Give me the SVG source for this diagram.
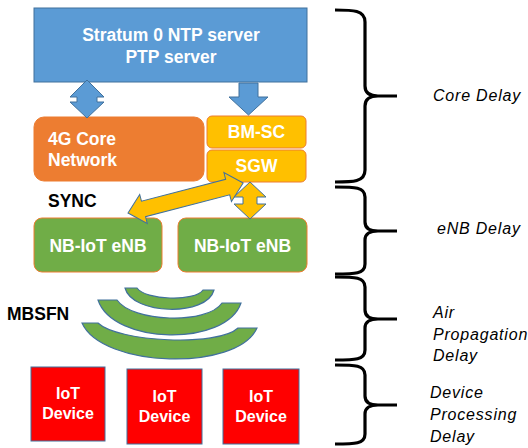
<svg xmlns="http://www.w3.org/2000/svg" width="528" height="448" viewBox="0 0 528 448">
  <style>
    .lbl { font-family: "Liberation Sans", Arial, sans-serif; font-weight: bold; fill: #ffffff; }
    .blk { font-family: "Liberation Sans", Arial, sans-serif; font-weight: bold; fill: #000000; font-size: 17.5px; }
    .note { font-family: "Liberation Sans", Arial, sans-serif; font-style: italic; fill: #000000; font-size: 16px; letter-spacing: 0.8px; }
    .blue { fill: #5B9BD5; stroke: #41719C; stroke-width: 1; }
    .yarrow { fill: #FFC000; stroke: #41719C; stroke-width: 1; }
    .wave { fill: #70AD47; stroke: #41719C; stroke-width: 1.2; }
    .brace { fill: none; stroke: #000000; stroke-width: 3.2; }
  </style>

  <!-- time servers -->
  <g id="server">
    <rect x="34" y="8" width="273" height="74" class="blue"/>
    <text class="lbl" font-size="17.5" x="171" y="41" text-anchor="middle">Stratum 0 NTP server</text>
    <text class="lbl" font-size="17.5" x="171" y="63" text-anchor="middle">PTP server</text>
  </g>

  <!-- core network -->
  <g id="core">
    <rect x="34" y="117" width="170" height="64" rx="10" fill="#ED7D31" stroke="#ED7D31"/>
    <text class="lbl" font-size="17.5" x="48" y="145">4G Core</text>
    <text class="lbl" font-size="17.5" x="48" y="166">Network</text>
  </g>
  <g id="bmsc">
    <rect x="207" y="116" width="99" height="32" rx="5" fill="#FFC000" stroke="#ED7D31"/>
    <text class="lbl" font-size="17.5" x="256.5" y="138" text-anchor="middle">BM-SC</text>
  </g>
  <g id="sgw">
    <rect x="207" y="150" width="99" height="32" rx="5" fill="#FFC000" stroke="#ED7D31"/>
    <text class="lbl" font-size="17.5" x="256.5" y="172" text-anchor="middle">SGW</text>
  </g>

  <!-- base stations -->
  <g id="enb1">
    <rect x="34" y="218" width="128" height="54" rx="8" fill="#70AD47" stroke="#ED7D31"/>
    <text class="lbl" font-size="17.5" x="98" y="252" text-anchor="middle">NB-IoT eNB</text>
  </g>
  <g id="enb2">
    <rect x="178" y="218" width="129" height="54" rx="8" fill="#70AD47" stroke="#ED7D31"/>
    <text class="lbl" font-size="17.5" x="242.5" y="252" text-anchor="middle">NB-IoT eNB</text>
  </g>

  <!-- devices -->
  <g id="dev1">
    <rect x="31" y="367" width="74" height="74" fill="#FF0000" stroke="#41719C"/>
    <text class="lbl" font-size="16" x="68" y="399" text-anchor="middle">IoT</text>
    <text class="lbl" font-size="16" x="68" y="419" text-anchor="middle">Device</text>
  </g>
  <g id="dev2">
    <rect x="127" y="369" width="75" height="75" fill="#FF0000" stroke="#41719C"/>
    <text class="lbl" font-size="16" x="164.5" y="402" text-anchor="middle">IoT</text>
    <text class="lbl" font-size="16" x="164.5" y="422" text-anchor="middle">Device</text>
  </g>
  <g id="dev3">
    <rect x="223" y="369" width="76" height="75" fill="#FF0000" stroke="#41719C"/>
    <text class="lbl" font-size="16" x="261" y="402" text-anchor="middle">IoT</text>
    <text class="lbl" font-size="16" x="261" y="422" text-anchor="middle">Device</text>
  </g>

  <!-- plain labels -->
  <g id="labels">
    <text class="blk" x="48" y="207">SYNC</text>
    <text class="blk" x="7" y="320">MBSFN</text>
  </g>

  <!-- connectors -->
  <g id="connectors">
    <!-- server <-> core -->
    <polygon class="blue" points="87,80 104,97 97,97 97,102 104,102 87,118 70,102 77,102 77,97 70,97"/>
    <!-- server -> BM-SC -->
    <polygon class="blue" points="239,83 258,83 258,97 268,97 248.5,115 229,97 239,97"/>
    <!-- SGW <-> eNB (sync) -->
    <polygon class="yarrow" transform="translate(128,213) rotate(-14.6)"
             points="0,0 16,-15 16,-8 103,-8 103,-15 119,0 103,15 103,8 16,8 16,15"/>
    <!-- SGW <-> eNB -->
    <polygon class="yarrow" points="250,182 266,197 257,197 257,204 266,204 250,219 234,204 243,204 243,197 234,197"/>
  </g>

  <!-- MBSFN broadcast waves -->
  <g id="waves">
    <path class="wave" d="M125,288 L137,288 C145,300 195,302 203,290 L214,290 C207,317 132,315 125,288 Z"/>
    <path class="wave" d="M98,300 L117,300 C132,322 207,325 222,303 L241,303 C226,347 113,345 98,300 Z"/>
    <path class="wave" d="M82,323 L98,323 C118,342 218,347 238,328 L257,328 C237,372 102,368 82,323 Z"/>
  </g>

  <!-- delay braces -->
  <g id="braces">
    <path class="brace" d="M335,10 C353,10 365,10 365,22 L365,86 C365,93 370,96 378,96 L397,96 M378,96 C370,96 365,99 365,106 L365,170 C365,182 353,182 335,182"/>
    <path class="brace" d="M335,187 C355,187 365,187 365,197 L365,222 C365,228 370,231 378,231 L397,231 M378,231 C370,231 365,234 365,240 L365,264 C365,274 355,274 335,274"/>
    <path class="brace" d="M335,277 C355,277 365,277 365,287 L365,310 C365,316 370,319 378,319 L397,319 M378,319 C370,319 365,322 365,328 L365,350 C365,360 355,360 335,360"/>
    <path class="brace" d="M335,365 C355,365 365,365 365,375 L365,396 C365,402 370,405 378,405 L397,405 M378,405 C370,405 365,408 365,414 L365,434 C365,444 355,444 335,444"/>
  </g>

  <g id="delays">
    <text class="note" x="433" y="101">Core Delay</text>
    <text class="note" x="437" y="234">eNB Delay</text>
    <text class="note" x="433" y="318">Air</text>
    <text class="note" x="433" y="340">Propagation</text>
    <text class="note" x="433" y="361">Delay</text>
    <text class="note" x="430" y="398">Device</text>
    <text class="note" x="430" y="420">Processing</text>
    <text class="note" x="430" y="442">Delay</text>
  </g>
</svg>
